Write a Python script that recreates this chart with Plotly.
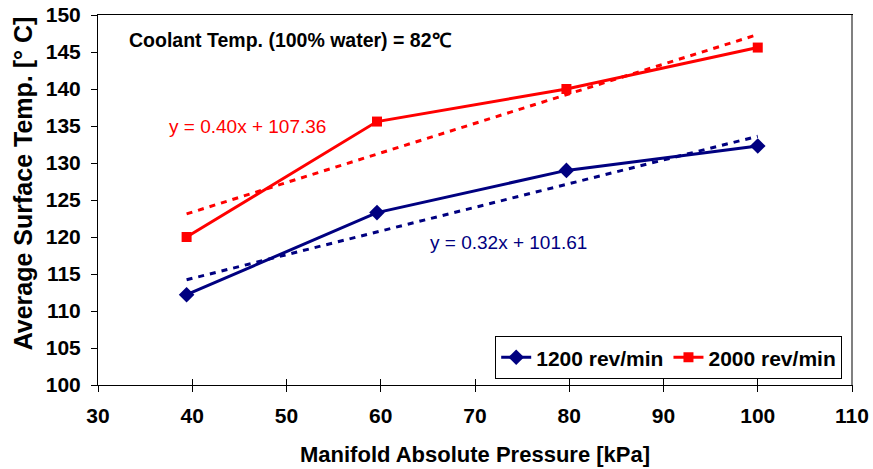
import plotly.graph_objects as go

pressure = [39.4, 59.6, 79.7, 100.0]
temp_1200 = [112.2, 123.3, 129.0, 132.3]
temp_2000 = [120.0, 135.6, 140.0, 145.6]
trend_slope = {"1200": 0.32, "2000": 0.40}
trend_icpt = {"1200": 101.61, "2000": 107.36}
x_ticks = [30, 40, 50, 60, 70, 80, 90, 100, 110]
y_ticks = [100, 105, 110, 115, 120, 125, 130, 135, 140, 145, 150]

BLUE = "#000080"
RED = "#FF0000"
FONT = "Liberation Sans, Arial, sans-serif"

def trend(key):
    xs = [pressure[0], pressure[-1]]
    return xs, [trend_slope[key] * x + trend_icpt[key] for x in xs]

fig = go.Figure()
tx, ty = trend("1200")
fig.add_trace(go.Scatter(x=tx, y=ty, mode="lines", showlegend=False,
                         line=dict(color=BLUE, width=3, dash="6px,6px")))
tx, ty = trend("2000")
fig.add_trace(go.Scatter(x=tx, y=ty, mode="lines", showlegend=False,
                         line=dict(color=RED, width=3, dash="6px,6px")))
fig.add_trace(go.Scatter(x=pressure, y=temp_1200, mode="lines+markers", name="1200 rev/min",
                         line=dict(color=BLUE, width=3),
                         marker=dict(symbol="diamond", size=12, color=BLUE)))
fig.add_trace(go.Scatter(x=pressure, y=temp_2000, mode="lines+markers", name="2000 rev/min",
                         line=dict(color=RED, width=3),
                         marker=dict(symbol="square", size=10, color=RED)))
# invisible trace to carry the inner tick axis
fig.add_trace(go.Scatter(x=[30, 110], y=[100, 100], xaxis="x2", mode="lines",
                         line=dict(width=0), showlegend=False, hoverinfo="skip"))

fig.update_layout(
    width=873, height=469,
    margin=dict(l=98, r=21, t=15, b=84),
    paper_bgcolor="white", plot_bgcolor="white",
    font=dict(family=FONT, color="black"),
    showlegend=True,
    legend=dict(orientation="h", x=0.987, xanchor="right", y=0.132, yanchor="top",
                bordercolor="black", borderwidth=1, bgcolor="white",
                font=dict(size=21, family=FONT, weight="bold"),
                itemwidth=30, tracegroupgap=0),
    xaxis=dict(range=[30, 110], tickvals=x_ticks, showgrid=False, zeroline=False,
               automargin=False,
               showline=True, linecolor="black", linewidth=1, mirror=True,
               ticks="outside", ticklen=6, tickcolor="black", ticklabelstandoff=6,
               tickfont=dict(size=21, family=FONT, weight="bold")),
    xaxis2=dict(range=[30, 110], tickvals=x_ticks, overlaying="x", side="bottom",
                anchor="y", showgrid=False, zeroline=False, showticklabels=False,
                automargin=False, ticks="inside", ticklen=6, tickcolor="black"),
    yaxis=dict(range=[100, 150], tickvals=y_ticks, showgrid=False, zeroline=False,
               automargin=False,
               showline=True, linecolor="black", linewidth=1, mirror=True,
               ticks="outside", ticklen=6, tickcolor="black", ticklabelstandoff=6,
               tickfont=dict(size=21, family=FONT, weight="bold")),
    shapes=[dict(type="line", xref="paper", yref="paper", x0=1, x1=1, y0=0, y1=1,
                 line=dict(color="#808080", width=2))],
    annotations=[
        dict(text="Manifold Absolute Pressure [kPa]", xref="paper", yref="paper",
             x=0.5, y=-0.189, xanchor="center", yanchor="middle", showarrow=False,
             font=dict(size=22, family=FONT, weight="bold", color="black")),
        dict(text="Average Surface Temp. [° C]", xref="paper", yref="paper",
             x=-0.099, y=0.546, xanchor="center", yanchor="middle", showarrow=False,
             textangle=-90,
             font=dict(size=25, family=FONT, weight="bold", color="black")),
        dict(text="Coolant Temp. (100% water) = 82℃", xref="paper", yref="paper",
             x=0.038, y=0.932, xanchor="left", yanchor="middle", showarrow=False,
             font=dict(size=19.5, family=FONT, weight="bold", color="black")),
        dict(text="y = 0.40x + 107.36", x=37.3, y=134.9, xanchor="left", yanchor="middle",
             showarrow=False, font=dict(size=19, family=FONT, color=RED)),
        dict(text="y = 0.32x + 101.61", x=65.0, y=119.2, xanchor="left", yanchor="middle",
             showarrow=False, font=dict(size=19, family=FONT, color=BLUE)),
    ],
)

fig.write_html("out.html")
